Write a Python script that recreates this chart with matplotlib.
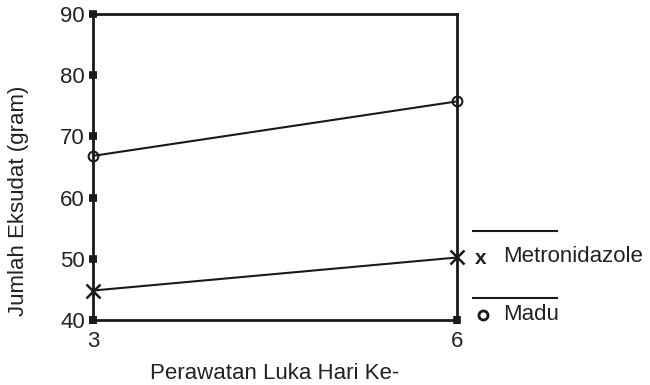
import matplotlib
matplotlib.use('Agg')
import matplotlib.pyplot as plt
from matplotlib.lines import Line2D

plt.rcParams['font.family'] = ['Liberation Sans', 'DejaVu Sans']

# data
hari = [3, 6]
madu = [66.8, 75.7]
metronidazole = [44.8, 50.2]
y_ticks = [40, 50, 60, 70, 80, 90]

fig = plt.figure(figsize=(6.5, 3.85), dpi=100)
ax = fig.add_axes([0.143, 0.169, 0.56, 0.795])

ax.plot(hari, madu, color='#1a1a1a', lw=1.5, marker='o', ms=7, mfc='none',
        mew=1.5, clip_on=False, zorder=5)
ax.plot(hari, metronidazole, color='#1a1a1a', lw=1.5, marker='x', ms=10,
        mew=1.8, clip_on=False, zorder=5)

ax.set_xlim(3, 6)
ax.set_ylim(40, 90)
ax.set_xticks(hari)
ax.set_yticks(y_ticks)
for s in ax.spines.values():
    s.set_linewidth(2)
    s.set_color('#1a1a1a')
ax.tick_params(axis='both', direction='inout', length=5.5, width=5.5,
               color='#1a1a1a', labelsize=16, labelcolor='#222222')
ax.tick_params(axis='y', pad=3)
ax.tick_params(axis='x', pad=5)
ax.set_xlabel('Perawatan Luka Hari Ke-', fontsize=16, color='#222222', labelpad=8)
ax.set_ylabel('Jumlah Eksudat (gram)', fontsize=16, color='#222222')
ax.yaxis.set_label_coords(-0.175, 0.39)

# custom legend on the right
def fx(px):
    return px / 650

def fy(py):
    return 1 - py / 385

for y_line in [231, 298]:
    fig.add_artist(Line2D([fx(473), fx(557)], [fy(y_line), fy(y_line)],
                          color='#1a1a1a', lw=1.5))
fig.text(fx(481), fy(258), 'x', fontsize=15, fontweight='bold', color='#222222',
         ha='center', va='center')
fig.text(fx(503), fy(256), 'Metronidazole', fontsize=16, color='#222222',
         va='center')
fig.add_artist(Line2D([fx(483)], [fy(315)], marker='o', ms=6.5, mfc='none',
                      mec='#1a1a1a', mew=2, lw=0))
fig.text(fx(503), fy(315), 'Madu', fontsize=16, color='#222222', va='center')

fig.savefig('out.png', dpi=100)
